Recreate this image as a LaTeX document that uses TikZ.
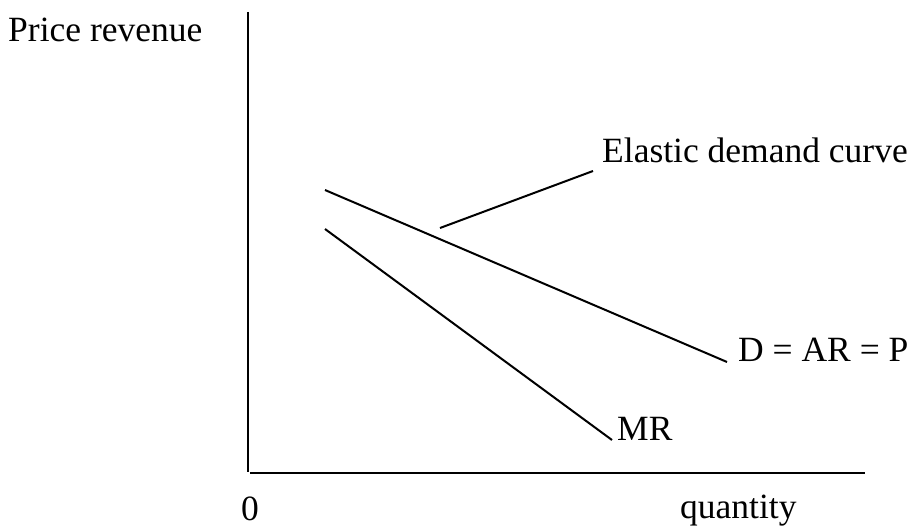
\documentclass[tikz,border=0pt]{standalone}
\usepackage{fontspec}
\setmainfont{Liberation Serif}
\begin{document}
\begin{tikzpicture}[x=1pt,y=-1pt,
  lbl/.style={inner sep=0pt,anchor=base west,font=\fontsize{35.5}{42}\selectfont},
  ln/.style={line width=2pt}]
\useasboundingbox (0,0) rectangle (910,527);
\coordinate (ytop) at (248,12);
\coordinate (ybot) at (248,472);
\coordinate (xstart) at (250,473);
\coordinate (xend) at (865,473);
\coordinate (d1) at (325,190);
\coordinate (d2) at (727,362);
\coordinate (m1) at (325,229);
\coordinate (m2) at (612,440);
\coordinate (p1) at (440,228);
\coordinate (p2) at (593,171);
\draw[ln] (ytop) -- (ybot);
\draw[ln] (xstart) -- (xend);
\draw[ln] (d1) -- (d2);
\draw[ln] (m1) -- (m2);
\draw[ln] (p1) -- (p2);
\node[lbl] (pr) at (8,42) {Price revenue};
\node[lbl] (el) at (602,162) {Elastic demand curve};
\node[lbl] (dd) at (738,361) {D = AR = P};
\node[lbl] (mr) at (617,440) {MR};
\node[lbl] (zero) at (241,520) {0};
\node[lbl] (qty) at (680,518) {quantity};
\end{tikzpicture}
\end{document}
